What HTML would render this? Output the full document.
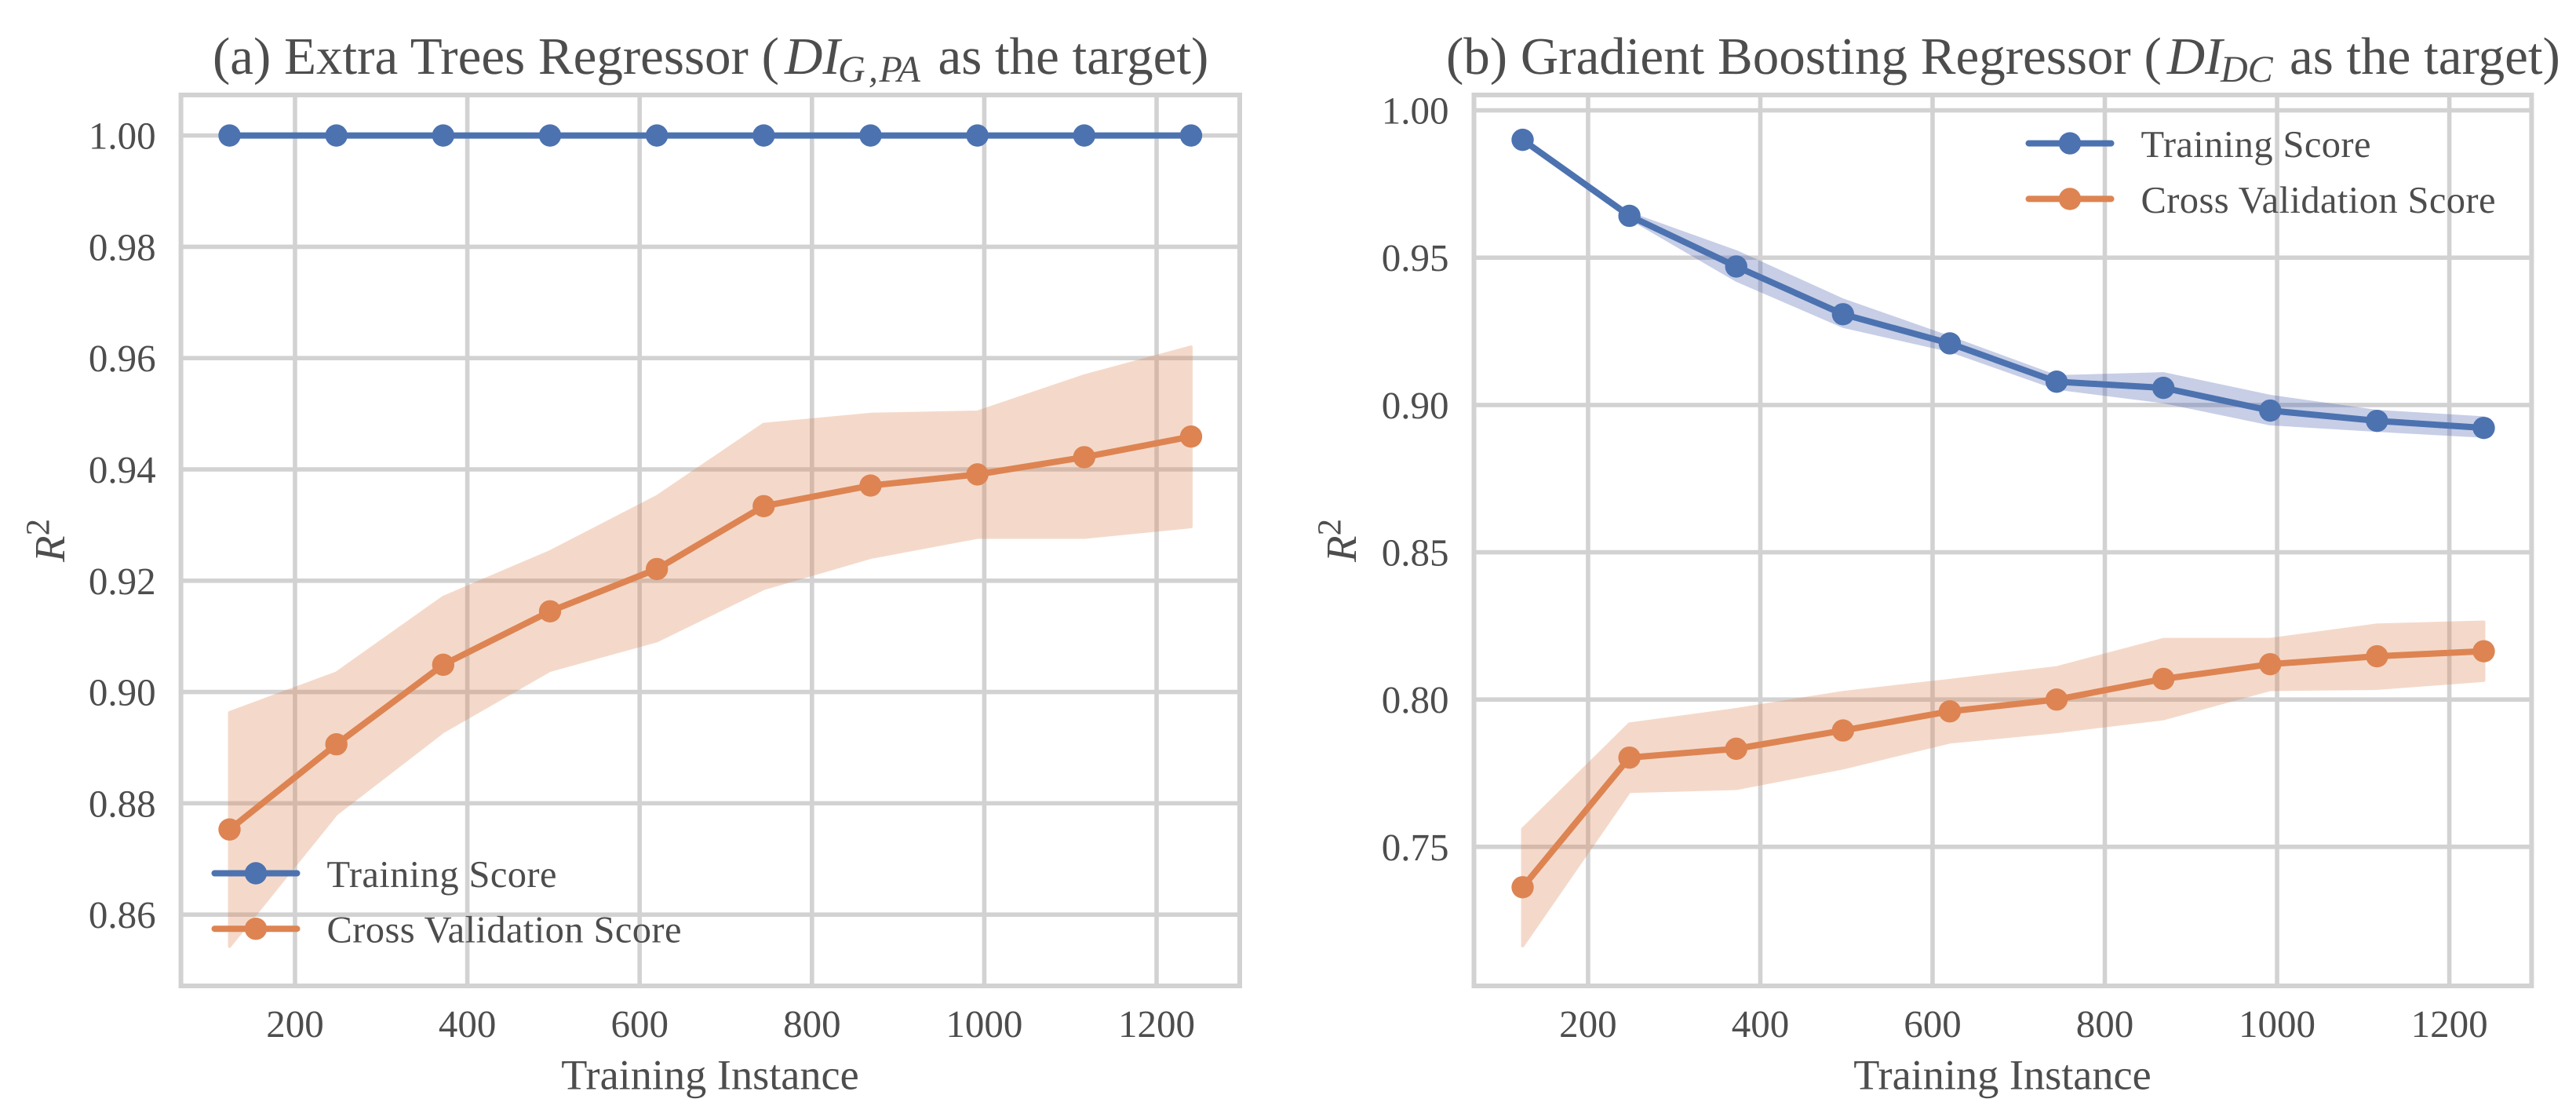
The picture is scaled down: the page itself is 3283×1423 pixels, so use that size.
<!DOCTYPE html>
<html lang="en">
<head>
<meta charset="utf-8">
<title>Learning curves</title>
<style>
html,body{margin:0;padding:0;background:#fff;}
svg{display:block;font-family:"Liberation Serif",serif;fill:#4d4d4d;text-rendering:geometricPrecision;}
</style>
</head>
<body>
<svg id="figure" xmlns="http://www.w3.org/2000/svg" width="3283" height="1423" viewBox="0 0 3283 1423">
  <rect width="3283" height="1423" fill="#ffffff"/>
  <g id="panel-a"></g>
  <g id="panel-b"></g>

  <text y="94" font-size="67"><tspan x="271">(a) Extra Trees Regressor (</tspan><tspan x="1000" font-style="italic">DI</tspan><tspan x="1068" y="104" font-size="48" font-style="italic">G</tspan><tspan x="1107" font-size="48" font-style="italic">,</tspan><tspan x="1120.5" font-size="48" font-style="italic">PA</tspan><tspan x="1195.5" y="94">as the target)</tspan></text>
  <text y="94" font-size="67"><tspan x="1843">(b) Gradient Boosting Regressor (</tspan><tspan x="2761.8" font-style="italic">DI</tspan><tspan x="2830" y="104" font-size="48" font-style="italic">DC</tspan><tspan x="2918" y="94">as the target)</tspan></text>

  <text x="905" y="1387.7" font-size="54.3" text-anchor="middle">Training Instance</text>
  <text x="2552" y="1387.7" font-size="54.3" text-anchor="middle">Training Instance</text>

  <text transform="translate(82 716) rotate(-90)" font-size="55"><tspan font-style="italic">R</tspan><tspan dy="-19.5" font-size="43">2</tspan></text>
  <text transform="translate(1728 716) rotate(-90)" font-size="55"><tspan font-style="italic">R</tspan><tspan dy="-19.5" font-size="43">2</tspan></text>
</svg>

<script>
var NS = 'http://www.w3.org/2000/svg';

/* Shared training sizes and axis ticks */
var trainingSizes = [124, 248, 372, 496, 620, 744, 868, 992, 1116, 1240];
var xTickValues = [200, 400, 600, 800, 1000, 1200];
var seriesNames = ['Training Score', 'Cross Validation Score'];

/* Panel (a) values */
var aYTickValues = [1.00, 0.98, 0.96, 0.94, 0.92, 0.90, 0.88, 0.86];
var aTrainMean = [1, 1, 1, 1, 1, 1, 1, 1, 1, 1];
var aTrainUpper = [1, 1, 1, 1, 1, 1, 1, 1, 1, 1];
var aTrainLower = [1, 1, 1, 1, 1, 1, 1, 1, 1, 1];
var aCvMean = [0.8753, 0.8906, 0.9049, 0.9145, 0.9221, 0.9334, 0.9371, 0.9391, 0.9422, 0.9459];
var aCvUpper = [0.8963, 0.9034, 0.9170, 0.9252, 0.9351, 0.9481, 0.9499, 0.9503, 0.9568, 0.9620];
var aCvLower = [0.8543, 0.8781, 0.8929, 0.9039, 0.9092, 0.9186, 0.9242, 0.9278, 0.9278, 0.9297];

/* Panel (b) values */
var bYTickValues = [1.00, 0.95, 0.90, 0.85, 0.80, 0.75];
var bTrainMean = [0.9900, 0.9642, 0.9470, 0.9308, 0.9209, 0.9079, 0.9058, 0.8981, 0.8946, 0.8922];
var bTrainUpper = [0.9905, 0.9650, 0.9520, 0.9356, 0.9229, 0.9096, 0.9106, 0.9029, 0.8978, 0.8956];
var bTrainLower = [0.9893, 0.9635, 0.9424, 0.9267, 0.9185, 0.9057, 0.9011, 0.8936, 0.8914, 0.8894];
var bCvMean = [0.7363, 0.7803, 0.7833, 0.7895, 0.7960, 0.8000, 0.8070, 0.8120, 0.8147, 0.8164];
var bCvUpper = [0.7560, 0.7917, 0.7966, 0.8024, 0.8065, 0.8108, 0.8204, 0.8204, 0.8253, 0.8263];
var bCvLower = [0.7164, 0.7688, 0.7698, 0.7768, 0.7856, 0.7891, 0.7935, 0.8034, 0.8038, 0.8065];

var BLUE = '#4c72b0';
var ORANGE = '#dd8452';
var BLUE_BAND = '#485faf';
var GRID = '#d2d2d3';
var TEXT = '#4d4d4d';

function node(parent, tag, attrs) {
  var el = document.createElementNS(NS, tag);
  for (var k in attrs) { el.setAttribute(k, attrs[k]); }
  parent.appendChild(el);
  return el;
}

function drawPanel(id, cfg) {
  var g = document.getElementById(id);
  function sx(v) { return cfg.left + (v - cfg.xMin) / (cfg.xMax - cfg.xMin) * (cfg.right - cfg.left); }
  function sy(v) { return cfg.bottom - (v - cfg.yMin) / (cfg.yMax - cfg.yMin) * (cfg.bottom - cfg.top); }

  cfg.xTicks.forEach(function (t) {
    var line = node(g, 'line', {x1: sx(t), x2: sx(t), y1: cfg.top, y2: cfg.bottom, stroke: GRID, 'stroke-width': 5.6});
    
    
    var label = node(g, 'text', {x: sx(t), y: 1321, 'font-size': 49, 'text-anchor': 'middle', fill: TEXT});
    
    
    label.textContent = String(t);
  });

  cfg.yTicks.forEach(function (t) {
    var line = node(g, 'line', {x1: cfg.left, x2: cfg.right, y1: sy(t), y2: sy(t), stroke: GRID, 'stroke-width': 5.6});
    
    
    var label = node(g, 'text', {x: cfg.left - 32, y: sy(t) + 17, 'font-size': 49, 'text-anchor': 'end', fill: TEXT});
    
    
    label.textContent = t.toFixed(2);
  });

  var frame = node(g, 'rect', {x: cfg.left, y: cfg.top, width: cfg.right - cfg.left, height: cfg.bottom - cfg.top, fill: 'none', stroke: GRID, 'stroke-width': 6});
  
  

  function band(upper, lower, color, name) {
    var pts = [];
    cfg.x.forEach(function (v, i) { pts.push(sx(v) + ',' + sy(upper[i])); });
    for (var i = cfg.x.length - 1; i >= 0; i--) { pts.push(sx(cfg.x[i]) + ',' + sy(lower[i])); }
    var poly = node(g, 'polygon', {points: pts.join(' '), fill: color, stroke: color, 'stroke-width': 4, 'stroke-linejoin': 'round', opacity: 0.3});
    
    
  }

  function series(mean, color, name) {
    var pts = cfg.x.map(function (v, i) { return sx(v) + ',' + sy(mean[i]); }).join(' ');
    var line = node(g, 'polyline', {points: pts, fill: 'none', stroke: color, 'stroke-width': 8, 'stroke-linejoin': 'round', 'stroke-linecap': 'round'});
    
    
    cfg.x.forEach(function (v, i) {
      var dot = node(g, 'circle', {cx: sx(v), cy: sy(mean[i]), r: 14.2, fill: color});
      
      
    });
  }

  band(cfg.trainUpper, cfg.trainLower, BLUE_BAND, 'training-score-band');
  band(cfg.cvUpper, cfg.cvLower, ORANGE, 'cross-validation-band');
  series(cfg.trainMean, BLUE, 'training-score');
  series(cfg.cvMean, ORANGE, 'cross-validation');

  var legend = node(g, 'g', {});
  
  
  seriesNames.forEach(function (label, i) {
    var color = i === 0 ? BLUE : ORANGE;
    var y = cfg.legendY[i];
    var entry = node(legend, 'g', {});
    
    
    node(entry, 'line', {x1: cfg.legendX, x2: cfg.legendX + 105, y1: y, y2: y, stroke: color, 'stroke-width': 8, 'stroke-linecap': 'round'});
    node(entry, 'circle', {cx: cfg.legendX + 52.5, cy: y, r: 14.2, fill: color});
    var text = node(entry, 'text', {x: cfg.legendX + 143, y: y + 17.4, 'font-size': 48.5, fill: TEXT, textLength: i === 0 ? 293 : 452, lengthAdjust: 'spacing'});
    text.textContent = label;
  });
}

drawPanel('panel-a', {
  left: 230.6, right: 1580, top: 121, bottom: 1256,
  xMin: 67.6, xMax: 1296.5, yMin: 0.84719, yMax: 1.00728,
  x: trainingSizes, xTicks: xTickValues, yTicks: aYTickValues,
  trainMean: aTrainMean, trainUpper: aTrainUpper, trainLower: aTrainLower,
  cvMean: aCvMean, cvUpper: aCvUpper, cvLower: aCvLower,
  legendX: 273.5, legendY: [1112.5, 1183.2]
});

drawPanel('panel-b', {
  left: 1878.5, right: 3226.4, top: 121, bottom: 1256,
  xMin: 67.5, xMax: 1295.5, yMin: 0.7028, yMax: 1.00522,
  x: trainingSizes, xTicks: xTickValues, yTicks: bYTickValues,
  trainMean: bTrainMean, trainUpper: bTrainUpper, trainLower: bTrainLower,
  cvMean: bCvMean, cvUpper: bCvUpper, cvLower: bCvLower,
  legendX: 2585.5, legendY: [182.6, 253.4]
});

/* Titles and axis labels stay above the plot groups */
var svg = document.getElementById('figure');
Array.prototype.slice.call(svg.querySelectorAll(':scope > text')).forEach(function (t) { svg.appendChild(t); });
</script>
</body>
</html>
